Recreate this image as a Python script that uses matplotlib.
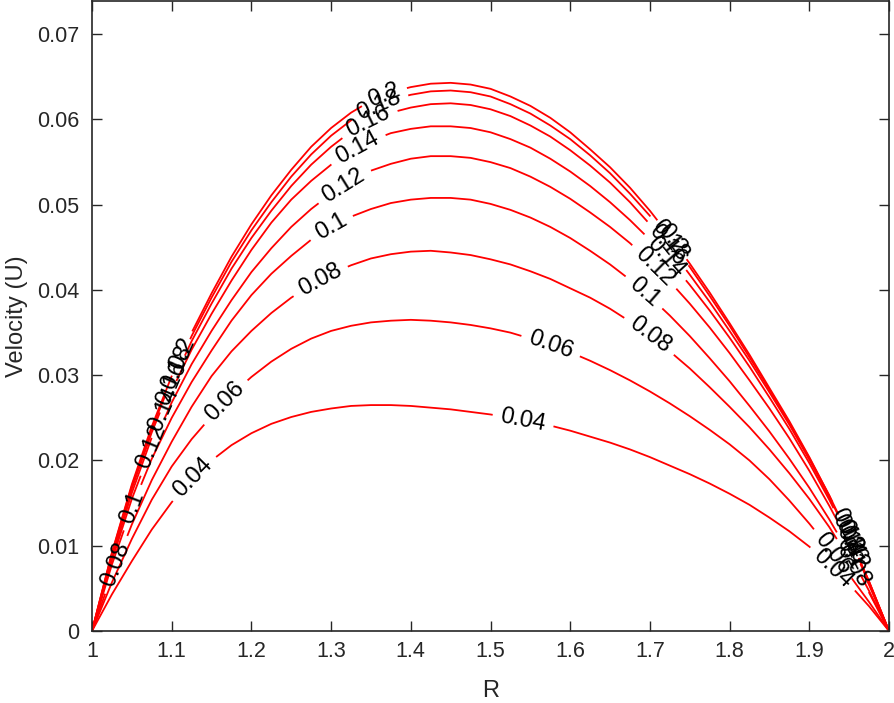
import numpy as np
import matplotlib
matplotlib.use("Agg")
import matplotlib.pyplot as plt

plt.rcParams['font.family'] = ['Liberation Sans', 'DejaVu Sans']

# ---------------- data ----------------
R = [1.000, 1.025, 1.050, 1.075, 1.100, 1.125, 1.150, 1.175, 1.200, 1.225,
     1.250, 1.275, 1.300, 1.325, 1.350, 1.375, 1.400, 1.425, 1.450, 1.475,
     1.500, 1.525, 1.550, 1.575, 1.600, 1.625, 1.650, 1.675, 1.700, 1.725,
     1.750, 1.775, 1.800, 1.825, 1.850, 1.875, 1.900, 1.925, 1.950, 1.975, 2.000]

level_labels = ['0.04', '0.06', '0.08', '0.1', '0.12', '0.14', '0.16', '0.18', '0.2']

U_004 = [0, 0.0043, 0.0082, 0.0119, 0.0151, 0.0178, 0.0200, 0.0218, 0.0232, 0.0243,
         0.0251, 0.0257, 0.0261, 0.0264, 0.0265, 0.0265, 0.0264, 0.0262, 0.0260, 0.0257,
         0.0254, 0.0250, 0.0246, 0.0241, 0.0235, 0.0228, 0.0221, 0.0213, 0.0204, 0.0194,
         0.0184, 0.0173, 0.0161, 0.0148, 0.0133, 0.0117, 0.0099, 0.0078, 0.0055, 0.0029, 0]
U_006 = [0, 0.0057, 0.0108, 0.0154, 0.0193, 0.0225, 0.0252, 0.0277, 0.0298, 0.0316,
         0.0331, 0.0343, 0.0352, 0.0358, 0.0362, 0.0364, 0.0365, 0.0364, 0.0362, 0.0359,
         0.0355, 0.0350, 0.0343, 0.0336, 0.0327, 0.0317, 0.0306, 0.0294, 0.0281, 0.0267,
         0.0252, 0.0236, 0.0219, 0.0200, 0.0178, 0.0153, 0.0126, 0.0097, 0.0066, 0.0034, 0]
U_008 = [0, 0.0066, 0.0125, 0.0177, 0.0222, 0.0263, 0.0299, 0.0328, 0.0352, 0.0373,
         0.0391, 0.0406, 0.0419, 0.0429, 0.0437, 0.0442, 0.0445, 0.0446, 0.0444, 0.0441,
         0.0436, 0.0430, 0.0422, 0.0413, 0.0402, 0.0391, 0.0378, 0.0363, 0.0347, 0.0328,
         0.0308, 0.0286, 0.0263, 0.0239, 0.0213, 0.0185, 0.0155, 0.0122, 0.0085, 0.0045, 0]
U_010 = [0, 0.0078, 0.0145, 0.0202, 0.0250, 0.0292, 0.0329, 0.0364, 0.0394, 0.0419,
         0.0440, 0.0459, 0.0474, 0.0486, 0.0495, 0.0502, 0.0506, 0.0508, 0.0508, 0.0506,
         0.0501, 0.0494, 0.0485, 0.0474, 0.0461, 0.0446, 0.0430, 0.0412, 0.0392, 0.0370,
         0.0346, 0.0320, 0.0293, 0.0264, 0.0234, 0.0202, 0.0168, 0.0131, 0.0091, 0.0047, 0]
U_012 = [0, 0.0083, 0.0155, 0.0216, 0.0268, 0.0313, 0.0352, 0.0388, 0.0421, 0.0449,
         0.0474, 0.0495, 0.0513, 0.0528, 0.0540, 0.0548, 0.0554, 0.0557, 0.0557, 0.0555,
         0.0550, 0.0543, 0.0533, 0.0521, 0.0507, 0.0491, 0.0474, 0.0455, 0.0433, 0.0410,
         0.0384, 0.0356, 0.0326, 0.0294, 0.0261, 0.0226, 0.0188, 0.0147, 0.0103, 0.0054, 0]
U_014 = [0, 0.0086, 0.0162, 0.0227, 0.0282, 0.0330, 0.0372, 0.0411, 0.0447, 0.0479,
         0.0506, 0.0528, 0.0547, 0.0563, 0.0575, 0.0584, 0.0589, 0.0592, 0.0592, 0.0590,
         0.0585, 0.0577, 0.0567, 0.0554, 0.0539, 0.0522, 0.0503, 0.0482, 0.0459, 0.0434,
         0.0406, 0.0376, 0.0344, 0.0310, 0.0274, 0.0237, 0.0197, 0.0154, 0.0108, 0.0056, 0]
U_016 = [0, 0.0089, 0.0167, 0.0233, 0.0290, 0.0340, 0.0384, 0.0425, 0.0461, 0.0493,
         0.0522, 0.0547, 0.0568, 0.0586, 0.0599, 0.0608, 0.0614, 0.0618, 0.0619, 0.0617,
         0.0612, 0.0604, 0.0593, 0.0580, 0.0564, 0.0546, 0.0526, 0.0503, 0.0477, 0.0449,
         0.0418, 0.0386, 0.0352, 0.0317, 0.0280, 0.0242, 0.0201, 0.0157, 0.0110, 0.0057, 0]
U_018 = [0, 0.0091, 0.0170, 0.0237, 0.0295, 0.0346, 0.0391, 0.0433, 0.0470, 0.0503,
         0.0533, 0.0559, 0.0581, 0.0599, 0.0613, 0.0623, 0.0629, 0.0633, 0.0634, 0.0632,
         0.0627, 0.0618, 0.0607, 0.0593, 0.0577, 0.0558, 0.0537, 0.0513, 0.0487, 0.0458,
         0.0427, 0.0393, 0.0358, 0.0321, 0.0283, 0.0244, 0.0203, 0.0159, 0.0111, 0.0058, 0]
U_020 = [0, 0.0092, 0.0172, 0.0240, 0.0299, 0.0350, 0.0396, 0.0439, 0.0477, 0.0511,
         0.0541, 0.0568, 0.0590, 0.0608, 0.0622, 0.0632, 0.0638, 0.0642, 0.0643, 0.0641,
         0.0636, 0.0627, 0.0616, 0.0602, 0.0585, 0.0565, 0.0544, 0.0520, 0.0493, 0.0463,
         0.0431, 0.0397, 0.0361, 0.0324, 0.0285, 0.0246, 0.0204, 0.0159, 0.0111, 0.0058, 0]

curves = [U_004, U_006, U_008, U_010, U_012, U_014, U_016, U_018, U_020]

x_ticks = [1, 1.1, 1.2, 1.3, 1.4, 1.5, 1.6, 1.7, 1.8, 1.9, 2]
x_tick_labels = ['1', '1.1', '1.2', '1.3', '1.4', '1.5', '1.6', '1.7', '1.8', '1.9', '2']
y_ticks = [0, 0.01, 0.02, 0.03, 0.04, 0.05, 0.06, 0.07]
y_tick_labels = ['0', '0.01', '0.02', '0.03', '0.04', '0.05', '0.06', '0.07']

# label placement along each curve (R positions, layout only)
label_pos = [
    [1.127, 1.541, 1.93],
    [1.167, 1.576, 1.93],
    [1.030, 1.286, 1.700, 1.955],
    [1.050, 1.300, 1.693, 1.950],
    [1.075, 1.316, 1.706, 1.953],
    [1.090, 1.333, 1.720, 1.948],
    [1.100, 1.347, 1.722, 1.952],
    [1.107, 1.360, 1.725, 1.946],
    [1.113, 1.366, 1.728, 1.950],
]

# ---------------- figure ----------------
W, H = 894, 703
fig = plt.figure(figsize=(W / 100, H / 100), dpi=100)
ax = fig.add_axes([92 / W, 1 - 631 / H, (889 - 92) / W, (631 - 1) / H])
ax.set_xlim(1, 2)
ax.set_ylim(0, 0.0739)

axis_col = '#262626'
ax.set_xticks(x_ticks)
ax.set_xticklabels(x_tick_labels)
ax.set_yticks(y_ticks)
ax.set_yticklabels(y_tick_labels)
ax.tick_params(direction='in', top=True, right=True, length=7, width=1.0,
               colors=axis_col, labelsize=15.5)
ax.tick_params(axis='x', pad=7)
ax.tick_params(axis='y', pad=9)
for sp in ax.spines.values():
    sp.set_color(axis_col)
    sp.set_linewidth(1.2)
ax.set_xlabel('R', fontsize=17, color=axis_col, labelpad=13)
ax.set_ylabel('Velocity (U)', fontsize=17, color=axis_col, labelpad=7)

renderer = fig.canvas.get_renderer()
label_fs = 17
pad_px = 8


def text_width(s):
    t = ax.text(0, 0, s, fontsize=label_fs)
    w = t.get_window_extent(renderer=renderer).width
    t.remove()
    return w


def draw_curve(xs, ys, lab, positions):
    pts = ax.transData.transform(np.column_stack([xs, ys]))
    seg = np.hypot(np.diff(pts[:, 0]), np.diff(pts[:, 1]))
    s = np.concatenate([[0.0], np.cumsum(seg)])

    def at(sv):
        return np.array([np.interp(sv, s, pts[:, 0]), np.interp(sv, s, pts[:, 1])])

    half = text_width(lab) / 2 + pad_px
    gaps = []
    for r0 in positions:
        s0 = np.interp(r0, xs, s)
        gaps.append((s0 - half, s0 + half, s0))
    gaps.sort()
    intervals = []
    start = 0.0
    for a, b, _ in gaps:
        if a > start:
            intervals.append((start, a))
        start = max(start, b)
    if start < s[-1]:
        intervals.append((start, s[-1]))
    inv = ax.transData.inverted()
    for a, b in intervals:
        inner = pts[(s > a) & (s < b)]
        p = np.vstack([at(a)[None, :], inner, at(b)[None, :]])
        d = inv.transform(p)
        ax.plot(d[:, 0], d[:, 1], color='#ff0000', lw=1.3,
                solid_capstyle='butt', solid_joinstyle='round')
    for a, b, s0 in gaps:
        c = at(s0)
        p1, p2 = at(max(a, 0)), at(min(b, s[-1]))
        ang = np.degrees(np.arctan2(p2[1] - p1[1], p2[0] - p1[0]))
        if ang > 90:
            ang -= 180
        if ang < -90:
            ang += 180
        cd = inv.transform(c[None, :])[0]
        ax.text(cd[0], cd[1], lab, fontsize=label_fs, rotation=ang,
                rotation_mode='anchor', ha='center', va='center', color='black')


for U, lab, pos in zip(curves, level_labels, label_pos):
    draw_curve(np.array(R), np.array(U), lab, pos)

fig.savefig('out.png', dpi=100)
